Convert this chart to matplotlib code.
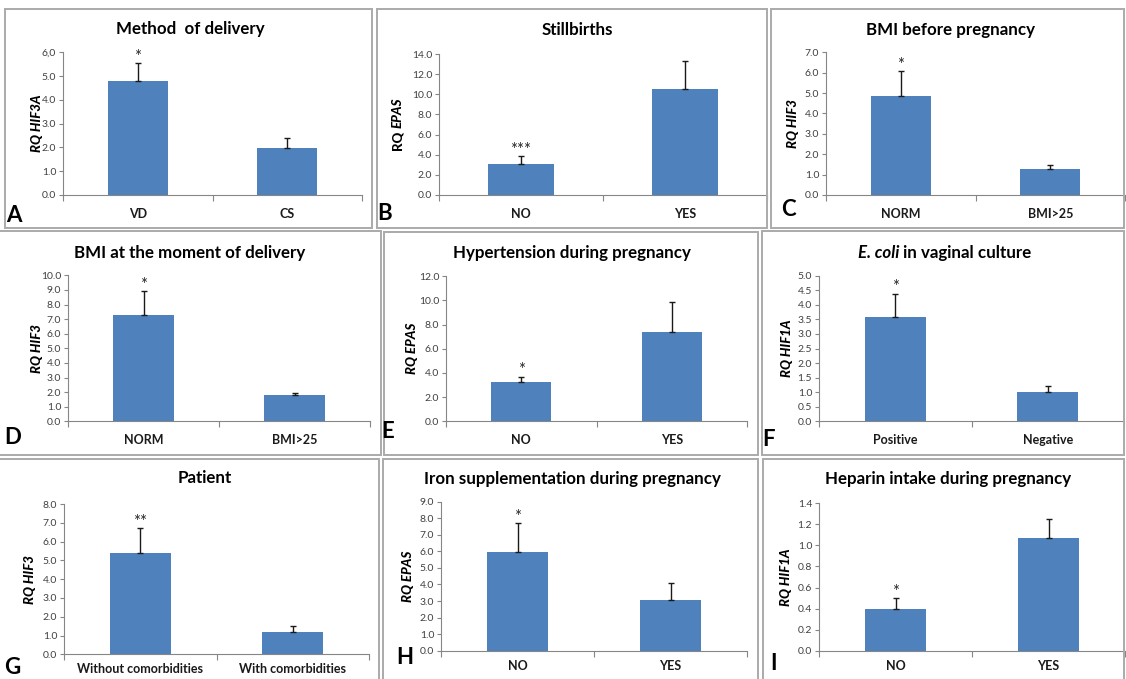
import matplotlib
matplotlib.use('Agg')
import numpy as np
import matplotlib.pyplot as plt
from matplotlib.patches import Rectangle

plt.rcParams['font.family'] = ['Lato', 'DejaVu Sans']

W, H = 1126, 679

# data
letters = ['A', 'B', 'C', 'D', 'E', 'F', 'G', 'H', 'I']
titles = ['Method  of delivery', 'Stillbirths', 'BMI before pregnancy',
          'BMI at the moment of delivery', 'Hypertension during pregnancy', 'E. coli in vaginal culture',
          'Patient', 'Iron supplementation during pregnancy', 'Heparin intake during pregnancy']
categories = [['VD', 'CS'], ['NO', 'YES'], ['NORM', 'BMI>25'],
              ['NORM', 'BMI>25'], ['NO', 'YES'], ['Positive', 'Negative'],
              ['Without comorbidities', 'With comorbidities'], ['NO', 'YES'], ['NO', 'YES']]
genes = ['HIF3A', 'EPAS', 'HIF3', 'HIF3', 'EPAS', 'HIF1A', 'HIF3', 'EPAS', 'HIF1A']
means = [[4.78, 1.96], [3.08, 10.56], [4.86, 1.26],
         [7.31, 1.83], [3.23, 7.42], [3.57, 1.00],
         [5.39, 1.19], [5.98, 3.06], [0.40, 1.07]]
errors = [[0.75, 0.44], [0.79, 2.74], [1.21, 0.23],
          [1.59, 0.14], [0.47, 2.43], [0.81, 0.20],
          [1.31, 0.33], [1.71, 1.04], [0.10, 0.18]]
stars = ['*', '***', '*', '*', '*', '*', '**', '*', '*']
ymax = [6, 14, 7, 10, 12, 5, 8, 9, 1.4]
ystep = [1, 2, 1, 1, 2, 0.5, 1, 1, 0.2]

# layout in reference pixels (y from top)
axes_px = [(63, 362, 195, 52.3), (439, 767, 195, 54), (826, 1125, 195, 52.3),
           (68, 370, 421.3, 275.3), (446, 747, 421.3, 276.3), (819, 1124, 421.3, 275.7),
           (64, 369, 654.3, 504), (441, 747, 650.7, 501.7), (819, 1125, 650.7, 503.3)]
boxes_px = [(5, 9, 372, 228), (377, 9, 767, 228), (771, 9, 1124, 228),
            (-2, 231, 381, 455), (384, 232, 758, 455), (762, 231, 1124, 455),
            (-2, 459, 379, 681), (383, 459, 758, 681), (763, 459, 1124, 681)]
title_px = [(190, 29), (577, 30), (951, 30), (190, 253), (572, 253), (950, 253),
            (205, 478), (572, 479), (948, 479)]
letter_px = [(6, 215), (377, 214), (781, 210), (4, 438), (381, 431), (762, 440),
             (4, 668), (396, 658), (770, 663)]
ylab_x = [37, 398, 793, 37, 412, 787, 30, 408, 786]
cat_pad = [9, 9, 9, 9, 9, 9, 6, 7, 7]

BLUE = '#4f81bd'
AXC = '#868686'

fig = plt.figure(figsize=(W / 100, H / 100), dpi=100)

for i in range(9):
    x0, y0, x1, y1 = boxes_px[i]
    fig.patches.append(Rectangle((x0 / W, 1 - y1 / H), (x1 - x0) / W, (y1 - y0) / H,
                                 transform=fig.transFigure, fill=False, edgecolor='#aaaaaa', lw=1.4))

    ax0, ax1, yz, yt = axes_px[i]
    ax = fig.add_axes([ax0 / W, 1 - yz / H, (ax1 - ax0) / W, (yz - yt) / H])
    x = np.arange(2)
    ax.bar(x, means[i], width=0.4, color=BLUE, zorder=2)
    ax.errorbar(x, means[i], yerr=[[0, 0], errors[i]], fmt='none', ecolor='#1a1a1a',
                elinewidth=1.0, capsize=2.5, capthick=1.0, zorder=3)
    ax.annotate(stars[i], (0, means[i][0] + errors[i][0]), xytext=(0, 1), textcoords='offset points',
                ha='center', va='baseline', fontsize=12, color='#262626')

    ax.set_xlim(-0.5, 1.5)
    ax.set_ylim(0, ymax[i])
    ticks = np.arange(0, ymax[i] + ystep[i] / 2, ystep[i])
    ax.set_yticks(ticks)
    labs = [f'{t:.1f}' for t in ticks]
    if i == 0:
        labs[-1] = labs[-1].replace('.', ',')
    ax.set_yticklabels(labs, fontsize=7.5, color='#404040')
    ax.set_xticks(x)
    ax.set_xticklabels(categories[i], fontsize=9, fontweight='bold', color='#1a1a1a')
    ax.set_xticks([-0.5, 0.5, 1.5], minor=True)
    ax.tick_params(axis='x', which='major', length=0, pad=cat_pad[i])
    ax.tick_params(axis='x', which='minor', length=4, color=AXC, width=0.8)
    ax.tick_params(axis='y', length=3, color=AXC, width=0.8, pad=2)
    for s in ['top', 'right']:
        ax.spines[s].set_visible(False)
    for s in ['left', 'bottom']:
        ax.spines[s].set_color(AXC)
        ax.spines[s].set_linewidth(0.8)
    ax.patch.set_visible(False)

    # y label, "RQ" upright only in panel B
    yc = 1 - (yz + yt) / 2 / H
    if i == 1:
        t1 = fig.text(ylab_x[i] / W, 1 - 151 / H, 'RQ ', rotation=90, ha='center', va='bottom',
                      fontsize=9.5, fontweight='black')
        ax.annotate(genes[i], xy=(0.5, 1), xycoords=t1, rotation=90, ha='center', va='bottom',
                    fontsize=9.5, fontweight='black', style='italic', annotation_clip=False)
    else:
        fig.text(ylab_x[i] / W, yc, 'RQ ' + genes[i], rotation=90, ha='center', va='center',
                 fontsize=9.5, fontweight='black', style='italic')

    # title
    tx, ty = title_px[i]
    if i == 5:
        t1 = fig.text(858 / W, 1 - ty / H, 'E. coli', ha='left', va='center', fontsize=12.2,
                      fontweight='bold', style='italic')
        ax.annotate(' in vaginal culture', xy=(1, 0), xycoords=t1, ha='left', va='bottom',
                    fontsize=12.2, fontweight='bold', annotation_clip=False)
    else:
        fig.text(tx / W, 1 - ty / H, titles[i], ha='center', va='center', fontsize=12.2, fontweight='bold')

    lx, ly = letter_px[i]
    fig.text(lx / W, 1 - ly / H, letters[i], ha='left', va='center', fontsize=16, fontweight='bold')

fig.savefig('out.png', dpi=100)
